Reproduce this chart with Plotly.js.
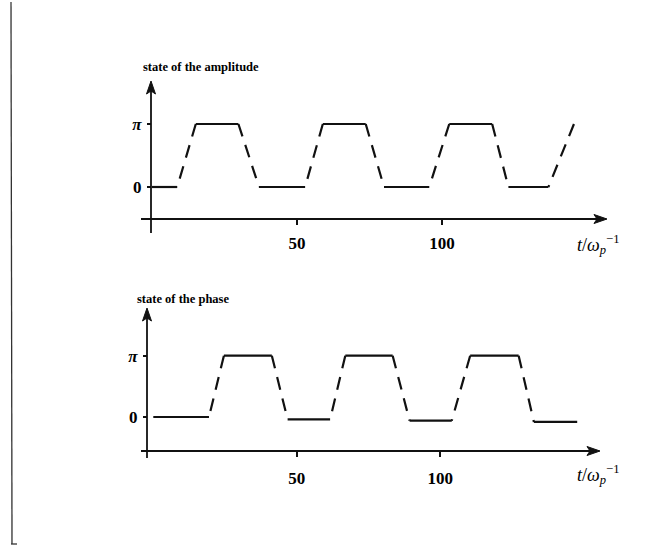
<!DOCTYPE html>
<html>
<head>
<meta charset="utf-8">
<script src="https://cdn.plot.ly/plotly-3.0.1.min.js"></script>
<style>html,body{margin:0;padding:0;background:#fff;}#plot{width:658px;height:548px;}</style>
</head>
<body>
<div id="plot"></div>
<script>
// Data (time in units of 1/omega_p, state in units of pi)
const ampTime  = [0, 8.7, 15.1, 29.8, 36.9, 52.8, 58.9, 73.7, 80.0, 95.6, 102.5, 117.3, 122.9, 136.7, 145.5];
const ampState = [0, 0,   1,    1,    0,    0,    1,    1,    0,    0,    1,     1,     0,     0,     1];
const phaseTime  = [0, 19.4, 24.6, 41.3, 46.8, 61.6, 66.9, 83.4, 89.3, 104.0, 110.4, 127.3, 132.6, 147.7];
const phaseState = [0, 0,    1,    1,    -0.04, -0.04, 1,  1,    -0.06, -0.06, 1,     1,     -0.08, -0.08];
const xTickVals = [50, 100];
const xTickText = ['50', '100'];
const yTickVals = [0, 1];
const yTickText = ['0', '<i>π</i>'];
const titles = ['state of the amplitude', 'state of the phase'];
const axisLabel = '<i>t</i>/<i>ω</i><sub><i>p</i></sub><sup>−1</sup>';

const W = 658, H = 548;
const px = v => v / W;
const py = v => 1 - v / H;

// flat parts solid; transitions dashed (each transition drawn from its upper end)
function split(t, s) {
  const flat = {x: [], y: []}, ramp = {x: [], y: []};
  for (let i = 0; i < t.length - 1; i++) {
    if (s[i] === s[i + 1]) {
      flat.x.push(t[i], t[i + 1], null);
      flat.y.push(s[i], s[i + 1], null);
    } else {
      const a = s[i] > s[i + 1] ? i : i + 1, b = a === i ? i + 1 : i;
      ramp.x.push(t[a], t[b], null);
      ramp.y.push(s[a], s[b], null);
    }
  }
  return {flat, ramp};
}

const lineCol = '#111';
function traces(t, s, xa, ya) {
  const {flat, ramp} = split(t, s);
  return [
    {x: flat.x, y: flat.y, xaxis: xa, yaxis: ya, mode: 'lines', connectgaps: false,
     line: {color: lineCol, width: 2.2}, hoverinfo: 'skip', showlegend: false},
    {x: ramp.x, y: ramp.y, xaxis: xa, yaxis: ya, mode: 'lines', connectgaps: false,
     line: {color: lineCol, width: 2.2, dash: '13px,9px'}, hoverinfo: 'skip', showlegend: false}
  ];
}

// panel geometry (pixels)
const P = [
  {xl: 141, xr: 607, t0: 152, sx: 2.9, yAxisPx: 151, xAxisPx: 219, yBot: 233, yTop: 81, y0: 187, ypi: 63, lblY: 244},
  {xl: 141, xr: 600, t0: 153.3, sx: 2.87, yAxisPx: 147, xAxisPx: 451, yBot: 458, yTop: 308, y0: 417, ypi: 61.3, lblY: 474}
];

const font = 'Liberation Serif, Times New Roman, serif';
const layout = {
  width: W, height: H, margin: {l: 0, r: 0, t: 0, b: 0},
  paper_bgcolor: '#fff', plot_bgcolor: 'rgba(0,0,0,0)',
  showlegend: false, annotations: [], shapes: []
};

function line(x0, y0, x1, y1, w) {
  return {type: 'line', xref: 'paper', yref: 'paper', x0: px(x0), y0: py(y0), x1: px(x1), y1: py(y1),
    line: {color: lineCol, width: w}};
}
function tri(pts) {
  const d = 'M ' + pts.map(q => px(q[0]) + ',' + py(q[1])).join(' L ') + ' Z';
  return {type: 'path', xref: 'paper', yref: 'paper', path: d, fillcolor: lineCol, line: {color: lineCol, width: 1}};
}

P.forEach((p, i) => {
  const sfx = i === 0 ? '' : '2';
  const xr = [(p.xl - p.t0) / p.sx, (p.xr - p.t0) / p.sx];
  const yr = [(p.y0 - p.yBot) / p.ypi, (p.y0 - p.yTop) / p.ypi];
  layout['xaxis' + sfx] = {
    domain: [px(p.xl), px(p.xr)], range: xr, anchor: 'free', position: py(p.xAxisPx),
    showgrid: false, zeroline: false, showline: false, ticks: 'outside', ticklen: 5, tickwidth: 1.6,
    tickcolor: lineCol, tickvals: xTickVals, ticktext: xTickText, ticklabelstandoff: i === 0 ? 4 : 7,
    tickfont: {family: font, size: 17, color: '#000', weight: 'bold'}, fixedrange: true
  };
  layout['yaxis' + sfx] = {
    domain: [py(p.yBot), py(p.yTop)], range: yr, anchor: 'free', position: px(p.yAxisPx),
    showgrid: false, zeroline: false, showline: false, ticks: 'outside', ticklen: 4, tickwidth: 1.6,
    tickcolor: lineCol, tickvals: yTickVals, ticktext: yTickText, ticklabelstandoff: 2,
    tickfont: {family: font, size: 17, color: '#000', weight: 'bold'}, fixedrange: true
  };
  // axis lines with arrowheads
  layout.shapes.push(line(p.xl, p.xAxisPx, p.xr - 8, p.xAxisPx, 1.8));
  layout.shapes.push(tri([[p.xr, p.xAxisPx], [p.xr - 13, p.xAxisPx - 4.5], [p.xr - 10, p.xAxisPx], [p.xr - 13, p.xAxisPx + 4.5]]));
  layout.shapes.push(line(p.yAxisPx, p.yBot, p.yAxisPx, p.yTop + 8, 1.8));
  layout.shapes.push(tri([[p.yAxisPx, p.yTop], [p.yAxisPx - 4.5, p.yTop + 13], [p.yAxisPx, p.yTop + 10], [p.yAxisPx + 4.5, p.yTop + 13]]));
  // panel title
  layout.annotations.push({xref: 'paper', yref: 'paper', x: px(i === 0 ? 141 : 135), y: py(i === 0 ? 67 : 299),
    xanchor: 'left', yanchor: 'middle', text: '<b>' + titles[i] + '</b>', showarrow: false,
    font: {family: font, size: 12.5, color: '#000'}});
  // axis label
  layout.annotations.push({xref: 'paper', yref: 'paper', x: px(598), y: py(p.lblY),
    xanchor: 'center', yanchor: 'middle', text: axisLabel, showarrow: false,
    font: {family: font, size: 18, color: '#000'}});
});

// scan border at left
layout.shapes.push({type: 'line', xref: 'paper', yref: 'paper', x0: px(11), x1: px(12), y0: py(2), y1: py(544),
  line: {color: '#333', width: 1.3}});
layout.shapes.push({type: 'line', xref: 'paper', yref: 'paper', x0: px(11), x1: px(17), y0: py(544), y1: py(544),
  line: {color: '#333', width: 1.3}});

const data = [].concat(
  traces(ampTime, ampState, 'x', 'y'),
  traces(phaseTime, phaseState, 'x2', 'y2')
);

Plotly.newPlot('plot', data, layout, {staticPlot: true, displayModeBar: false});
</script>
</body>
</html>
